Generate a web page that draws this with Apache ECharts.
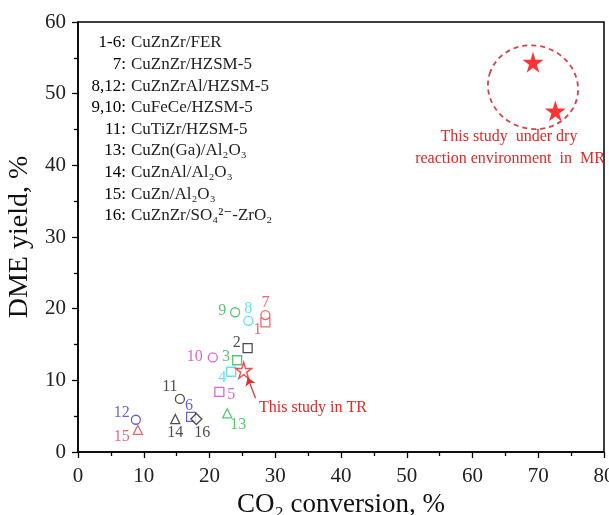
<!DOCTYPE html>
<html lang="en">
<head>
    <meta charset="UTF-8">
    <title>DME yield vs CO2 conversion</title>
    <script src="https://cdn.jsdelivr.net/npm/echarts@6/dist/echarts.min.js"></script>
    <style type="text/css">
        html, body { margin: 0; height: 100%; background: #fff; }
    </style>
</head>
<body>
<div id="main" style="width: 609px;height:515px;"></div>
<script>
    // literature catalysts (fixed-bed / TR)
    const pointIds = ['1', '2', '3', '4', '5', '6', '7', '8', '9', '10', '11', '12', '13', '14', '15', '16'];
    const co2Conversion = [28.5, 25.8, 24.2, 23.3, 21.5, 17.2, 28.5, 25.9, 23.9, 20.5, 15.5, 8.8, 22.7, 14.8, 9.1, 18.0];
    const dmeYield = [18.1, 14.5, 12.8, 11.2, 8.4, 4.9, 19.1, 18.3, 19.5, 13.2, 7.4, 4.5, 5.4, 4.6, 3.1, 4.6];

    // this study
    const trConversion = [25.2];
    const trYield = [11.4];
    const mrConversion = [69.2, 72.6];
    const mrYield = [54.4, 47.6];

    const xTicks = [0, 10, 20, 30, 40, 50, 60, 70, 80];
    const yTicks = [0, 10, 20, 30, 40, 50, 60];

    const RED = '#e8404a', CYAN = '#3fd8ec', BLUE = '#3b3bd0', GREEN = '#2fb84e',
        MAGENTA = '#d040d0', BLACK = '#222';
    const SERIF = '"Liberation Serif", "DejaVu Serif", serif';
    const STAR = 'path://M50,0 L61,35 L98,35 L68,57 L79,91 L50,70 L21,91 L32,57 L2,35 L39,35 Z';

    // marker style + label offset (px from marker centre) per point
    const pointStyle = {
        '1': ['rect', RED, [-8, 8]],
        '2': ['rect', BLACK, [-11, -5]],
        '3': ['rect', GREEN, [-11, -3]],
        '4': ['rect', CYAN, [-9, 6]],
        '5': ['rect', MAGENTA, [12, 3]],
        '6': ['rect', BLUE, [-2, -11]],
        '7': ['circle', RED, [0, -12]],
        '8': ['circle', CYAN, [0, -12]],
        '9': ['circle', GREEN, [-13, -1]],
        '10': ['circle', MAGENTA, [-18, -1]],
        '11': ['circle', BLACK, [-10, -12]],
        '12': ['circle', BLUE, [-14, -7]],
        '13': ['triangle', GREEN, [11, 11]],
        '14': ['triangle', BLACK, [0, 14]],
        '15': ['triangle', RED, [-16, 7]],
        '16': ['diamond', BLACK, [6, 14]]
    };

    const litData = pointIds.map(function (id, i) {
        const s = pointStyle[id];
        return {
            value: [co2Conversion[i], dmeYield[i]],
            symbol: s[0],
            symbolSize: s[0] === 'diamond' ? 11 : 9,
            itemStyle: {color: '#fff', borderColor: s[1], borderWidth: 1.3},
            label: {
                show: true, formatter: id, position: 'inside', offset: s[2],
                color: s[1], fontFamily: SERIF, fontSize: 16
            }
        };
    });

    const myChart = echarts.init(document.getElementById('main'), null, {renderer: 'canvas'});

    const axisCommon = {
        type: 'value',
        interval: 10,
        axisLine: {show: true, onZero: false, lineStyle: {color: '#000', width: 1.5}},
        axisTick: {show: true, inside: false, length: 6, lineStyle: {color: '#000', width: 1.3}},
        minorTick: {show: true, splitNumber: 2, length: 4, lineStyle: {color: '#000', width: 1.3}},
        splitLine: {show: false},
        axisLabel: {color: '#222', fontFamily: SERIF, fontSize: 21}
    };

    const legendRows = [
        ['{k|1-6}', 'CuZnZr/FER'],
        ['{r|7}', 'CuZnZr/HZSM-5'],
        ['{c|8}{k|,}{b|12}', 'CuZnZrAl/HZSM-5'],
        ['{g|9}{k|,}{m|10}', 'CuFeCe/HZSM-5'],
        ['{k|11}', 'CuTiZr/HZSM-5'],
        ['{g|13}', 'CuZn(Ga)/Al₂O₃'],
        ['{k|14}', 'CuZnAl/Al₂O₃'],
        ['{r|15}', 'CuZn/Al₂O₃'],
        ['{k|16}', 'CuZnZr/SO₄²⁻-ZrO₂']
    ];
    const legendRich = {
        k: {color: BLACK, fontFamily: SERIF, fontSize: 17},
        r: {color: RED, fontFamily: SERIF, fontSize: 17},
        c: {color: CYAN, fontFamily: SERIF, fontSize: 17},
        b: {color: BLUE, fontFamily: SERIF, fontSize: 17},
        g: {color: GREEN, fontFamily: SERIF, fontSize: 17},
        m: {color: MAGENTA, fontFamily: SERIF, fontSize: 17}
    };
    const legendGraphics = [];
    legendRows.forEach(function (row, i) {
        const y = 43 + i * 21.6;
        legendGraphics.push({
            type: 'text', x: 126, y: y,
            style: {text: row[0] + '{k|:}', rich: legendRich, align: 'right', verticalAlign: 'middle'}
        });
        legendGraphics.push({
            type: 'text', x: 131, y: y,
            style: {text: row[1], fill: BLACK, font: '17px ' + SERIF, align: 'left', verticalAlign: 'middle'}
        });
    });

    const option = {
        backgroundColor: '#fff',
        animation: false,
        grid: {
            left: 78, right: 5, top: 22, bottom: 63,
            containLabel: false, outerBoundsMode: 'none',
            show: true, borderColor: '#000', borderWidth: 1.5
        },
        xAxis: Object.assign({}, axisCommon, {
            min: xTicks[0], max: xTicks[xTicks.length - 1],
            name: 'CO₂ conversion, %',
            nameLocation: 'middle', nameGap: 36,
            nameTextStyle: {color: '#111', fontFamily: SERIF, fontSize: 27},
            axisLabel: Object.assign({}, axisCommon.axisLabel, {margin: 14})
        }),
        yAxis: Object.assign({}, axisCommon, {
            min: yTicks[0], max: yTicks[yTicks.length - 1],
            name: 'DME yield, %',
            nameLocation: 'middle', nameGap: 42,
            nameTextStyle: {color: '#111', fontFamily: SERIF, fontSize: 28},
            axisLabel: Object.assign({}, axisCommon.axisLabel, {margin: 12})
        }),
        series: [
            {
                type: 'scatter',
                data: litData,
                z: 3
            },
            {
                type: 'scatter',
                data: trConversion.map(function (x, i) { return [x, trYield[i]]; }),
                symbol: STAR,
                symbolSize: 16,
                itemStyle: {color: '#fff', borderColor: '#ee2222', borderWidth: 1.4},
                z: 4,
                markLine: {
                    silent: true,
                    symbol: ['none', 'arrow'],
                    symbolSize: 8,
                    label: {show: false},
                    lineStyle: {color: '#e03030', type: 'solid', width: 1.2},
                    data: [[{coord: [27.0, 7.5]}, {coord: [25.8, 10.4]}]]
                }
            },
            {
                type: 'scatter',
                data: mrConversion.map(function (x, i) { return [x, mrYield[i]]; }),
                symbol: STAR,
                symbolSize: 21,
                itemStyle: {color: '#ff0000'},
                z: 4
            },
            {
                // dashed ring round the membrane-reactor points
                type: 'custom',
                silent: true,
                data: [[69.2, 50.9, 6.9, 5.8]],
                renderItem: function (params, api) {
                    const c = api.coord([api.value(0), api.value(1)]);
                    const s = api.size([api.value(2), api.value(3)]);
                    return {
                        type: 'ellipse',
                        x: c[0], y: c[1], rotation: -0.3,
                        shape: {cx: 0, cy: 0, rx: s[0], ry: s[1]},
                        style: {fill: 'none', stroke: '#d8404c', lineWidth: 1.8, lineDash: [5, 4]}
                    };
                }
            }
        ],
        graphic: legendGraphics.concat([
            {
                type: 'text', x: 509, y: 137,
                style: {text: 'This study  under dry', fill: '#e02828', font: '16px ' + SERIF,
                    align: 'center', verticalAlign: 'middle'}
            },
            {
                type: 'text', x: 510, y: 159,
                style: {text: 'reaction environment  in  MR', fill: '#e02828', font: '16px ' + SERIF,
                    align: 'center', verticalAlign: 'middle'}
            },
            {
                type: 'text', x: 259, y: 408,
                style: {text: 'This study in TR', fill: '#e02828', font: '16px ' + SERIF,
                    align: 'left', verticalAlign: 'middle'}
            }
        ])
    };

    myChart.setOption(option);

    window.addEventListener('resize', function () {
        myChart.resize();
    });
</script>
</body>
</html>
